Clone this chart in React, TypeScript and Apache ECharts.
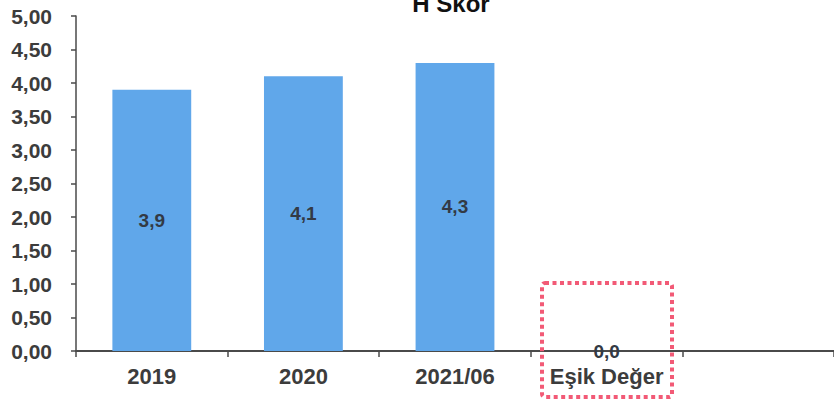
import React, { useEffect, useRef } from "react";
import * as echarts from "echarts";

// Score per period, plus the threshold column and a trailing empty slot
const categories = ["2019", "2020", "2021/06", "Eşik Değer", ""];
const scores: (number | string)[] = [3.9, 4.1, 4.3, 0, "-"];
const yTicks = { min: 0, max: 5, interval: 0.5 };
const chartTitle = "H Skor";

const comma = (v: number, d: number) => v.toFixed(d).replace(".", ",");

export default function App() {
  const ref = useRef<HTMLDivElement>(null);

  useEffect(() => {
    if (!ref.current) return;
    const chart = echarts.init(ref.current, undefined, { renderer: "svg" });
    const font = "'Liberation Sans', Arial, sans-serif";
    chart.setOption({
      animation: false,
      backgroundColor: "#ffffff",
      title: {
        text: chartTitle,
        left: 446,
        top: -14,
        textAlign: "center",
        textStyle: { fontFamily: font, fontSize: 24, fontWeight: "bold", color: "#111111" },
      },
      grid: { left: 76, top: 16, width: 763, height: 335, containLabel: false },
      xAxis: {
        type: "category",
        data: categories,
        axisLine: { show: true, lineStyle: { color: "#4a4a4a", width: 2 } },
        axisTick: { show: true, length: 6, lineStyle: { color: "#4a4a4a", width: 1.5 } },
        axisLabel: {
          margin: 14,
          fontFamily: font,
          fontSize: 22,
          fontWeight: "bold",
          color: "#3c3c3c",
        },
      },
      yAxis: {
        type: "value",
        min: yTicks.min,
        max: yTicks.max,
        interval: yTicks.interval,
        splitLine: { show: false },
        axisLine: { show: true, lineStyle: { color: "#4a4a4a", width: 1.5 } },
        axisTick: { show: true, length: 5, lineStyle: { color: "#4a4a4a", width: 1.5 } },
        axisLabel: {
          margin: 24,
          fontFamily: font,
          fontSize: 21,
          fontWeight: "bold",
          color: "#3c3c3c",
          formatter: (v: number) => comma(v, 2),
        },
      },
      series: [
        {
          type: "bar",
          data: scores,
          barWidth: "52%",
          itemStyle: { color: "#60a7ea" },
          label: {
            show: true,
            position: "inside",
            fontFamily: font,
            fontSize: 19,
            fontWeight: "bold",
            color: "#333a45",
            formatter: (p: any) => comma(Number(p.value), 1),
          },
        },
      ],
      graphic: [
        {
          type: "rect",
          shape: { x: 542, y: 283, width: 130, height: 114, r: 3 },
          style: {
            fill: "none",
            stroke: "#f25a76",
            lineWidth: 4,
            lineDash: [4, 3.5],
          },
          z: 100,
        },
      ],
    });
    return () => chart.dispose();
  }, []);

  return (
    <div
      ref={ref}
      style={{ position: "fixed", left: 0, top: 0, width: 834, height: 403 }}
    />
  );
}
